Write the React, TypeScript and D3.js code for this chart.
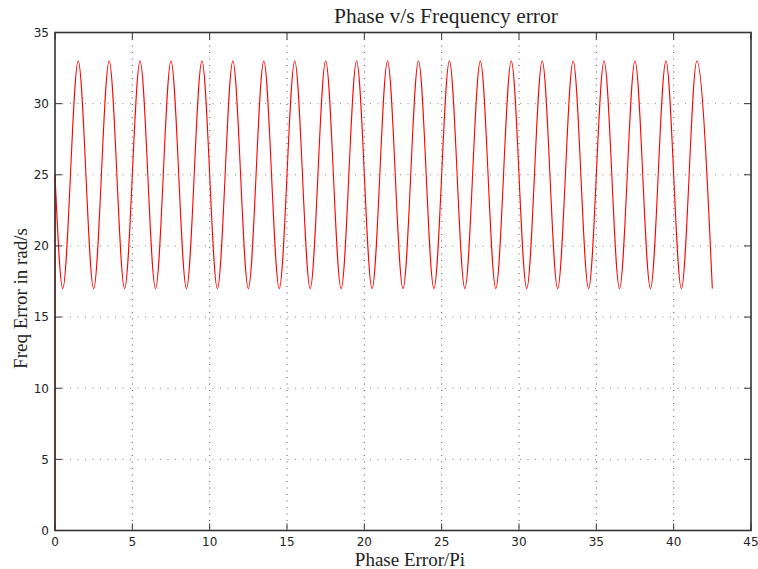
import React from "react";
import * as d3 from "d3";

// Data
const startPhase = [0, 0];
const startFreq = [0, 25];
const troughPhase = [0.5, 2.5, 4.5, 6.5, 8.5, 10.5, 12.5, 14.5, 16.5, 18.5, 20.5, 22.5, 24.5, 26.5, 28.5, 30.5, 32.5, 34.5, 36.5, 38.5, 40.5, 42.5];
const troughFreq = 17;
const peakPhase = [1.5, 3.5, 5.5, 7.5, 9.5, 11.5, 13.5, 15.5, 17.5, 19.5, 21.5, 23.5, 25.5, 27.5, 29.5, 31.5, 33.5, 35.5, 37.5, 39.5, 41.5];
const peakFreq = 33;
const xTicks = [0, 5, 10, 15, 20, 25, 30, 35, 40, 45];
const yTicks = [0, 5, 10, 15, 20, 25, 30, 35];

const W = 758, H = 569;
const left = 55, right = 751, top = 32.5, bottom = 530.5;

export default function App() {
  const x = d3.scaleLinear().domain([0, 45]).range([left, right]);
  const y = d3.scaleLinear().domain([0, 35]).range([bottom, top]);

  const pts: [number, number][] = [[startPhase[1], startFreq[1]]];
  troughPhase.forEach((t, i) => {
    pts.push([t, troughFreq]);
    if (i < peakPhase.length) pts.push([peakPhase[i], peakFreq]);
  });
  const line = d3.line<[number, number]>().x(d => x(d[0])).y(d => y(d[1])).curve(d3.curveMonotoneX);
  const startLine = d3.line<[number, number]>().x(d => x(d[0])).y(d => y(d[1]));
  const startPts: [number, number][] = startPhase.map((p, i) => [p, startFreq[i]]);

  const tickFont = "'DejaVu Sans', sans-serif";
  const serif = "'Liberation Serif', 'Times New Roman', serif";
  const tl = 7;

  return (
    <svg width={W} height={H} style={{ position: "absolute", left: 0, top: 0, background: "#fff" }}>
      <rect x={0} y={0} width={W} height={H} fill="#fff" />
      {/* grid */}
      {xTicks.slice(1, -1).map(t => (
        <line key={"gx" + t} x1={x(t)} x2={x(t)} y1={top} y2={bottom} stroke="#555" strokeWidth={1} strokeDasharray="1,5.5" />
      ))}
      {yTicks.slice(1, -1).map(t => (
        <line key={"gy" + t} x1={left} x2={right} y1={y(t)} y2={y(t)} stroke="#888" strokeWidth={1} strokeDasharray="1,6.5" />
      ))}
      {/* curve */}
      <path d={startLine(startPts) || ""} fill="none" stroke="#ff0000" strokeWidth={1.1} />
      <path d={line(pts) || ""} fill="none" stroke="#ff0000" strokeWidth={1.1} />
      {/* box */}
      <rect x={left} y={top} width={right - left} height={bottom - top} fill="none" stroke="#333" strokeWidth={1.6} />
      {/* ticks */}
      {xTicks.map(t => (
        <g key={"tx" + t}>
          <line x1={x(t)} x2={x(t)} y1={bottom} y2={bottom - tl} stroke="#333" strokeWidth={1} />
          <line x1={x(t)} x2={x(t)} y1={top} y2={top + tl} stroke="#333" strokeWidth={1} />
          <text x={x(t)} y={546} fontFamily={tickFont} fontSize={12} textAnchor="middle" fill="#222">{t}</text>
        </g>
      ))}
      {yTicks.map(t => (
        <g key={"ty" + t}>
          <line x1={left} x2={left + tl} y1={y(t)} y2={y(t)} stroke="#333" strokeWidth={1} />
          <line x1={right} x2={right - tl} y1={y(t)} y2={y(t)} stroke="#333" strokeWidth={1} />
          <text x={49} y={y(t) + 4.3} fontFamily={tickFont} fontSize={12} textAnchor="end" fill="#222">{t}</text>
        </g>
      ))}
      {/* labels */}
      <text x={446} y={22.5} fontFamily={serif} fontSize={21.5} textAnchor="middle" fill="#222">Phase v/s Frequency error</text>
      <text x={410} y={566} fontFamily={serif} fontSize={19} textAnchor="middle" fill="#222">Phase Error/Pi</text>
      <text transform="translate(27,298.5) rotate(-90)" fontFamily={serif} fontSize={19} textAnchor="middle" fill="#222">Freq Error in rad/s</text>
    </svg>
  );
}
